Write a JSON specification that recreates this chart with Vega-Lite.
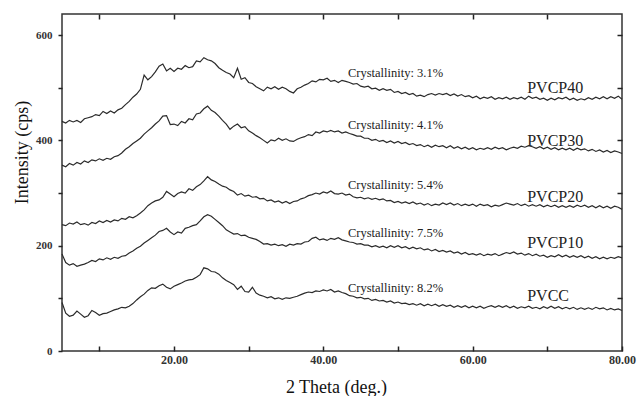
{
  "$schema": "https://vega.github.io/schema/vega-lite/v6.json",
  "width": 560,
  "height": 337,
  "autosize": {"type": "none"},
  "padding": {"left": 62, "top": 14, "right": 15, "bottom": 45},
  "background": "white",
  "config": {
    "font": "Liberation Serif",
    "view": {"stroke": "#333333", "strokeWidth": 1.5},
    "text": {"font": "Liberation Serif"},
    "axis": {"labelFont": "Liberation Serif", "titleFont": "Liberation Serif"}
  },
  "datasets": {
    "xrd": [
      {"theta":5,"PVCC":92,"PVCP10":184,"PVCP20":240,"PVCP30":353,"PVCP40":436},
      {"theta":5.5,"PVCC":72,"PVCP10":168,"PVCP20":238,"PVCP30":350,"PVCP40":433},
      {"theta":6,"PVCC":66,"PVCP10":163,"PVCP20":243,"PVCP30":356,"PVCP40":438},
      {"theta":6.5,"PVCC":68,"PVCP10":166,"PVCP20":241,"PVCP30":353,"PVCP40":435},
      {"theta":7,"PVCC":76,"PVCP10":161,"PVCP20":245,"PVCP30":358,"PVCP40":438},
      {"theta":7.5,"PVCC":70,"PVCP10":163,"PVCP20":240,"PVCP30":355,"PVCP40":434},
      {"theta":8,"PVCC":64,"PVCP10":165,"PVCP20":242,"PVCP30":361,"PVCP40":441},
      {"theta":8.5,"PVCC":67,"PVCP10":168,"PVCP20":239,"PVCP30":358,"PVCP40":443},
      {"theta":9,"PVCC":77,"PVCP10":172,"PVCP20":244,"PVCP30":363,"PVCP40":445},
      {"theta":9.5,"PVCC":73,"PVCP10":170,"PVCP20":242,"PVCP30":361,"PVCP40":449},
      {"theta":10,"PVCC":68,"PVCP10":175,"PVCP20":247,"PVCP30":365,"PVCP40":447},
      {"theta":10.5,"PVCC":71,"PVCP10":173,"PVCP20":244,"PVCP30":362,"PVCP40":455},
      {"theta":11,"PVCC":72,"PVCP10":177,"PVCP20":248,"PVCP30":366,"PVCP40":451},
      {"theta":11.5,"PVCC":75,"PVCP10":174,"PVCP20":245,"PVCP30":364,"PVCP40":456},
      {"theta":12,"PVCC":78,"PVCP10":178,"PVCP20":249,"PVCP30":369,"PVCP40":452},
      {"theta":12.5,"PVCC":80,"PVCP10":176,"PVCP20":247,"PVCP30":371,"PVCP40":458},
      {"theta":13,"PVCC":83,"PVCP10":180,"PVCP20":252,"PVCP30":376,"PVCP40":461},
      {"theta":13.5,"PVCC":82,"PVCP10":181,"PVCP20":250,"PVCP30":383,"PVCP40":468},
      {"theta":14,"PVCC":85,"PVCP10":186,"PVCP20":255,"PVCP30":388,"PVCP40":474},
      {"theta":14.5,"PVCC":90,"PVCP10":190,"PVCP20":253,"PVCP30":394,"PVCP40":482},
      {"theta":15,"PVCC":97,"PVCP10":195,"PVCP20":257,"PVCP30":399,"PVCP40":488},
      {"theta":15.5,"PVCC":103,"PVCP10":199,"PVCP20":262,"PVCP30":404,"PVCP40":497},
      {"theta":16,"PVCC":108,"PVCP10":205,"PVCP20":268,"PVCP30":412,"PVCP40":524},
      {"theta":16.5,"PVCC":115,"PVCP10":210,"PVCP20":276,"PVCP30":418,"PVCP40":515},
      {"theta":17,"PVCC":120,"PVCP10":215,"PVCP20":281,"PVCP30":424,"PVCP40":521},
      {"theta":17.5,"PVCC":119,"PVCP10":220,"PVCP20":285,"PVCP30":431,"PVCP40":530},
      {"theta":18,"PVCC":124,"PVCP10":227,"PVCP20":287,"PVCP30":437,"PVCP40":541},
      {"theta":18.5,"PVCC":127,"PVCP10":229,"PVCP20":292,"PVCP30":446,"PVCP40":545},
      {"theta":19,"PVCC":121,"PVCP10":233,"PVCP20":303,"PVCP30":447,"PVCP40":532},
      {"theta":19.5,"PVCC":118,"PVCP10":226,"PVCP20":298,"PVCP30":430,"PVCP40":537},
      {"theta":20,"PVCC":123,"PVCP10":221,"PVCP20":293,"PVCP30":431,"PVCP40":531},
      {"theta":20.5,"PVCC":126,"PVCP10":226,"PVCP20":299,"PVCP30":428,"PVCP40":537},
      {"theta":21,"PVCC":129,"PVCP10":224,"PVCP20":302,"PVCP30":436,"PVCP40":535},
      {"theta":21.5,"PVCC":133,"PVCP10":233,"PVCP20":300,"PVCP30":433,"PVCP40":542},
      {"theta":22,"PVCC":135,"PVCP10":235,"PVCP20":308,"PVCP30":441,"PVCP40":538},
      {"theta":22.5,"PVCC":136,"PVCP10":238,"PVCP20":305,"PVCP30":439,"PVCP40":540},
      {"theta":23,"PVCC":140,"PVCP10":240,"PVCP20":312,"PVCP30":450,"PVCP40":551},
      {"theta":23.5,"PVCC":145,"PVCP10":247,"PVCP20":316,"PVCP30":452,"PVCP40":549},
      {"theta":24,"PVCC":158,"PVCP10":255,"PVCP20":323,"PVCP30":460,"PVCP40":557},
      {"theta":24.5,"PVCC":156,"PVCP10":259,"PVCP20":331,"PVCP30":465,"PVCP40":553},
      {"theta":25,"PVCC":151,"PVCP10":256,"PVCP20":325,"PVCP30":457,"PVCP40":551},
      {"theta":25.5,"PVCC":150,"PVCP10":250,"PVCP20":322,"PVCP30":453,"PVCP40":546},
      {"theta":26,"PVCC":146,"PVCP10":244,"PVCP20":317,"PVCP30":446,"PVCP40":538},
      {"theta":26.5,"PVCC":139,"PVCP10":238,"PVCP20":313,"PVCP30":438,"PVCP40":533},
      {"theta":27,"PVCC":134,"PVCP10":230,"PVCP20":311,"PVCP30":431,"PVCP40":529},
      {"theta":27.5,"PVCC":130,"PVCP10":226,"PVCP20":306,"PVCP30":421,"PVCP40":526},
      {"theta":28,"PVCC":126,"PVCP10":222,"PVCP20":303,"PVCP30":427,"PVCP40":519},
      {"theta":28.5,"PVCC":117,"PVCP10":223,"PVCP20":296,"PVCP30":431,"PVCP40":537},
      {"theta":29,"PVCC":123,"PVCP10":219,"PVCP20":299,"PVCP30":424,"PVCP40":516},
      {"theta":29.5,"PVCC":113,"PVCP10":220,"PVCP20":294,"PVCP30":426,"PVCP40":519},
      {"theta":30,"PVCC":112,"PVCP10":216,"PVCP20":296,"PVCP30":418,"PVCP40":510},
      {"theta":30.5,"PVCC":121,"PVCP10":214,"PVCP20":292,"PVCP30":414,"PVCP40":508},
      {"theta":31,"PVCC":110,"PVCP10":212,"PVCP20":293,"PVCP30":409,"PVCP40":502},
      {"theta":31.5,"PVCC":106,"PVCP10":208,"PVCP20":289,"PVCP30":405,"PVCP40":498},
      {"theta":32,"PVCC":104,"PVCP10":203,"PVCP20":290,"PVCP30":400,"PVCP40":494},
      {"theta":32.5,"PVCC":101,"PVCP10":204,"PVCP20":285,"PVCP30":395,"PVCP40":501},
      {"theta":33,"PVCC":103,"PVCP10":201,"PVCP20":287,"PVCP30":401,"PVCP40":498},
      {"theta":33.5,"PVCC":99,"PVCP10":203,"PVCP20":283,"PVCP30":399,"PVCP40":502},
      {"theta":34,"PVCC":101,"PVCP10":200,"PVCP20":285,"PVCP30":404,"PVCP40":497},
      {"theta":34.5,"PVCC":98,"PVCP10":202,"PVCP20":281,"PVCP30":400,"PVCP40":501},
      {"theta":35,"PVCC":101,"PVCP10":199,"PVCP20":284,"PVCP30":403,"PVCP40":498},
      {"theta":35.5,"PVCC":100,"PVCP10":203,"PVCP20":280,"PVCP30":399,"PVCP40":493},
      {"theta":36,"PVCC":102,"PVCP10":201,"PVCP20":284,"PVCP30":398,"PVCP40":490},
      {"theta":36.5,"PVCC":104,"PVCP10":204,"PVCP20":285,"PVCP30":402,"PVCP40":498},
      {"theta":37,"PVCC":107,"PVCP10":203,"PVCP20":289,"PVCP30":405,"PVCP40":501},
      {"theta":37.5,"PVCC":110,"PVCP10":207,"PVCP20":291,"PVCP30":407,"PVCP40":505},
      {"theta":38,"PVCC":112,"PVCP10":208,"PVCP20":295,"PVCP30":411,"PVCP40":508},
      {"theta":38.5,"PVCC":111,"PVCP10":214,"PVCP20":297,"PVCP30":409,"PVCP40":513},
      {"theta":39,"PVCC":114,"PVCP10":216,"PVCP20":300,"PVCP30":416,"PVCP40":511},
      {"theta":39.5,"PVCC":113,"PVCP10":211,"PVCP20":298,"PVCP30":414,"PVCP40":516},
      {"theta":40,"PVCC":116,"PVCP10":213,"PVCP20":302,"PVCP30":418,"PVCP40":515},
      {"theta":40.5,"PVCC":114,"PVCP10":210,"PVCP20":300,"PVCP30":416,"PVCP40":518},
      {"theta":41,"PVCC":117,"PVCP10":214,"PVCP20":304,"PVCP30":419,"PVCP40":512},
      {"theta":41.5,"PVCC":112,"PVCP10":212,"PVCP20":299,"PVCP30":416,"PVCP40":514},
      {"theta":42,"PVCC":114,"PVCP10":215,"PVCP20":298,"PVCP30":418,"PVCP40":510},
      {"theta":42.5,"PVCC":111,"PVCP10":211,"PVCP20":300,"PVCP30":414,"PVCP40":514},
      {"theta":43,"PVCC":109,"PVCP10":209,"PVCP20":296,"PVCP30":416,"PVCP40":512},
      {"theta":43.5,"PVCC":105,"PVCP10":207,"PVCP20":298,"PVCP30":413,"PVCP40":510},
      {"theta":44,"PVCC":104,"PVCP10":206,"PVCP20":293,"PVCP30":411,"PVCP40":507},
      {"theta":44.5,"PVCC":101,"PVCP10":203,"PVCP20":291,"PVCP30":408,"PVCP40":508},
      {"theta":45,"PVCC":102,"PVCP10":204,"PVCP20":292,"PVCP30":408,"PVCP40":503},
      {"theta":45.5,"PVCC":99,"PVCP10":201,"PVCP20":289,"PVCP30":404,"PVCP40":501},
      {"theta":46,"PVCC":100,"PVCP10":201,"PVCP20":291,"PVCP30":404,"PVCP40":503},
      {"theta":46.5,"PVCC":96,"PVCP10":198,"PVCP20":288,"PVCP30":400,"PVCP40":498},
      {"theta":47,"PVCC":98,"PVCP10":200,"PVCP20":290,"PVCP30":402,"PVCP40":499},
      {"theta":47.5,"PVCC":95,"PVCP10":197,"PVCP20":287,"PVCP30":398,"PVCP40":495},
      {"theta":48,"PVCC":96,"PVCP10":199,"PVCP20":289,"PVCP30":400,"PVCP40":498},
      {"theta":48.5,"PVCC":93,"PVCP10":196,"PVCP20":285,"PVCP30":396,"PVCP40":495},
      {"theta":49,"PVCC":95,"PVCP10":200,"PVCP20":286,"PVCP30":399,"PVCP40":497},
      {"theta":49.5,"PVCC":91,"PVCP10":197,"PVCP20":282,"PVCP30":395,"PVCP40":491},
      {"theta":50,"PVCC":93,"PVCP10":200,"PVCP20":284,"PVCP30":398,"PVCP40":493},
      {"theta":50.5,"PVCC":90,"PVCP10":196,"PVCP20":281,"PVCP30":394,"PVCP40":489},
      {"theta":51,"PVCC":91,"PVCP10":198,"PVCP20":283,"PVCP30":396,"PVCP40":491},
      {"theta":51.5,"PVCC":88,"PVCP10":194,"PVCP20":280,"PVCP30":392,"PVCP40":487},
      {"theta":52,"PVCC":90,"PVCP10":197,"PVCP20":283,"PVCP30":394,"PVCP40":489},
      {"theta":52.5,"PVCC":87,"PVCP10":194,"PVCP20":279,"PVCP30":390,"PVCP40":484},
      {"theta":53,"PVCC":90,"PVCP10":196,"PVCP20":281,"PVCP30":392,"PVCP40":486},
      {"theta":53.5,"PVCC":86,"PVCP10":192,"PVCP20":277,"PVCP30":388,"PVCP40":483},
      {"theta":54,"PVCC":89,"PVCP10":194,"PVCP20":280,"PVCP30":391,"PVCP40":487},
      {"theta":54.5,"PVCC":86,"PVCP10":190,"PVCP20":276,"PVCP30":387,"PVCP40":489},
      {"theta":55,"PVCC":89,"PVCP10":193,"PVCP20":279,"PVCP30":391,"PVCP40":486},
      {"theta":55.5,"PVCC":85,"PVCP10":189,"PVCP20":277,"PVCP30":388,"PVCP40":489},
      {"theta":56,"PVCC":88,"PVCP10":191,"PVCP20":281,"PVCP30":390,"PVCP40":487},
      {"theta":56.5,"PVCC":85,"PVCP10":188,"PVCP20":278,"PVCP30":386,"PVCP40":489},
      {"theta":57,"PVCC":87,"PVCP10":190,"PVCP20":281,"PVCP30":390,"PVCP40":485},
      {"theta":57.5,"PVCC":83,"PVCP10":186,"PVCP20":277,"PVCP30":385,"PVCP40":488},
      {"theta":58,"PVCC":86,"PVCP10":188,"PVCP20":280,"PVCP30":388,"PVCP40":484},
      {"theta":58.5,"PVCC":83,"PVCP10":184,"PVCP20":276,"PVCP30":384,"PVCP40":487},
      {"theta":59,"PVCC":86,"PVCP10":187,"PVCP20":279,"PVCP30":387,"PVCP40":483},
      {"theta":59.5,"PVCC":82,"PVCP10":183,"PVCP20":276,"PVCP30":383,"PVCP40":485},
      {"theta":60,"PVCC":85,"PVCP10":185,"PVCP20":279,"PVCP30":386,"PVCP40":481},
      {"theta":60.5,"PVCC":82,"PVCP10":182,"PVCP20":275,"PVCP30":382,"PVCP40":484},
      {"theta":61,"PVCC":85,"PVCP10":185,"PVCP20":279,"PVCP30":385,"PVCP40":479},
      {"theta":61.5,"PVCC":81,"PVCP10":181,"PVCP20":276,"PVCP30":383,"PVCP40":482},
      {"theta":62,"PVCC":84,"PVCP10":184,"PVCP20":278,"PVCP30":386,"PVCP40":480},
      {"theta":62.5,"PVCC":86,"PVCP10":182,"PVCP20":274,"PVCP30":383,"PVCP40":483},
      {"theta":63,"PVCC":83,"PVCP10":185,"PVCP20":277,"PVCP30":387,"PVCP40":478},
      {"theta":63.5,"PVCC":86,"PVCP10":181,"PVCP20":275,"PVCP30":384,"PVCP40":481},
      {"theta":64,"PVCC":83,"PVCP10":184,"PVCP20":278,"PVCP30":386,"PVCP40":479},
      {"theta":64.5,"PVCC":86,"PVCP10":187,"PVCP20":281,"PVCP30":382,"PVCP40":482},
      {"theta":65,"PVCC":82,"PVCP10":185,"PVCP20":279,"PVCP30":385,"PVCP40":478},
      {"theta":65.5,"PVCC":85,"PVCP10":188,"PVCP20":277,"PVCP30":387,"PVCP40":481},
      {"theta":66,"PVCC":81,"PVCP10":184,"PVCP20":280,"PVCP30":385,"PVCP40":479},
      {"theta":66.5,"PVCC":84,"PVCP10":186,"PVCP20":276,"PVCP30":389,"PVCP40":482},
      {"theta":67,"PVCC":82,"PVCP10":182,"PVCP20":279,"PVCP30":387,"PVCP40":478},
      {"theta":67.5,"PVCC":85,"PVCP10":185,"PVCP20":275,"PVCP30":390,"PVCP40":484},
      {"theta":68,"PVCC":81,"PVCP10":181,"PVCP20":278,"PVCP30":388,"PVCP40":480},
      {"theta":68.5,"PVCC":83,"PVCP10":184,"PVCP20":275,"PVCP30":385,"PVCP40":482},
      {"theta":69,"PVCC":80,"PVCP10":180,"PVCP20":278,"PVCP30":388,"PVCP40":478},
      {"theta":69.5,"PVCC":84,"PVCP10":182,"PVCP20":274,"PVCP30":384,"PVCP40":480},
      {"theta":70,"PVCC":81,"PVCP10":178,"PVCP20":277,"PVCP30":387,"PVCP40":476},
      {"theta":70.5,"PVCC":85,"PVCP10":181,"PVCP20":274,"PVCP30":383,"PVCP40":480},
      {"theta":71,"PVCC":81,"PVCP10":179,"PVCP20":277,"PVCP30":386,"PVCP40":477},
      {"theta":71.5,"PVCC":84,"PVCP10":183,"PVCP20":273,"PVCP30":382,"PVCP40":481},
      {"theta":72,"PVCC":80,"PVCP10":179,"PVCP20":276,"PVCP30":385,"PVCP40":479},
      {"theta":72.5,"PVCC":83,"PVCP10":182,"PVCP20":273,"PVCP30":382,"PVCP40":482},
      {"theta":73,"PVCC":80,"PVCP10":178,"PVCP20":276,"PVCP30":385,"PVCP40":477},
      {"theta":73.5,"PVCC":83,"PVCP10":181,"PVCP20":273,"PVCP30":381,"PVCP40":480},
      {"theta":74,"PVCC":79,"PVCP10":178,"PVCP20":277,"PVCP30":385,"PVCP40":476},
      {"theta":74.5,"PVCC":82,"PVCP10":181,"PVCP20":274,"PVCP30":382,"PVCP40":479},
      {"theta":75,"PVCC":79,"PVCP10":177,"PVCP20":277,"PVCP30":384,"PVCP40":477},
      {"theta":75.5,"PVCC":82,"PVCP10":180,"PVCP20":273,"PVCP30":380,"PVCP40":481},
      {"theta":76,"PVCC":79,"PVCP10":176,"PVCP20":276,"PVCP30":383,"PVCP40":478},
      {"theta":76.5,"PVCC":83,"PVCP10":179,"PVCP20":272,"PVCP30":379,"PVCP40":482},
      {"theta":77,"PVCC":80,"PVCP10":175,"PVCP20":276,"PVCP30":382,"PVCP40":479},
      {"theta":77.5,"PVCC":82,"PVCP10":178,"PVCP20":272,"PVCP30":378,"PVCP40":483},
      {"theta":78,"PVCC":78,"PVCP10":175,"PVCP20":275,"PVCP30":381,"PVCP40":479},
      {"theta":78.5,"PVCC":81,"PVCP10":178,"PVCP20":271,"PVCP30":377,"PVCP40":483},
      {"theta":79,"PVCC":78,"PVCP10":176,"PVCP20":275,"PVCP30":380,"PVCP40":480},
      {"theta":79.5,"PVCC":80,"PVCP10":179,"PVCP20":273,"PVCP30":378,"PVCP40":484},
      {"theta":80,"PVCC":77,"PVCP10":177,"PVCP20":269,"PVCP30":375,"PVCP40":478}
    ],
    "labels": [
      {"kind":"crystallinity","label":"Crystallinity: 3.1%","theta":43.3,"intensity":528},
      {"kind":"crystallinity","label":"Crystallinity: 4.1%","theta":43.3,"intensity":430},
      {"kind":"crystallinity","label":"Crystallinity: 5.4%","theta":43.3,"intensity":316},
      {"kind":"crystallinity","label":"Crystallinity: 7.5%","theta":43.3,"intensity":225},
      {"kind":"crystallinity","label":"Crystallinity: 8.2%","theta":43.3,"intensity":120},
      {"kind":"sample","label":"PVCP40","theta":67.3,"intensity":499},
      {"kind":"sample","label":"PVCP30","theta":67.3,"intensity":398},
      {"kind":"sample","label":"PVCP20","theta":67.3,"intensity":293},
      {"kind":"sample","label":"PVCP10","theta":67.3,"intensity":206},
      {"kind":"sample","label":"PVCC","theta":67.3,"intensity":105}
    ]
  },
  "resolve": {"axis": {"x": "independent", "y": "independent"}},
  "layer": [
    {
      "data": {"name": "xrd"},
      "transform": [
        {"fold": ["PVCC", "PVCP10", "PVCP20", "PVCP30", "PVCP40"], "as": ["sample", "intensity"]}
      ],
      "mark": {"type": "line", "color": "#2b2b2b", "strokeWidth": 1.2},
      "encoding": {
        "x": {
          "field": "theta", "type": "quantitative",
          "scale": {"domain": [5, 80], "nice": false, "zero": false},
          "axis": {
            "orient": "bottom", "offset": -5, "values": [10, 20, 30, 40, 50, 60, 70, 80],
            "labelExpr": "datum.value % 20 === 0 ? format(datum.value, '.2f') : ''",
            "domain": false, "grid": false, "ticks": true,
            "tickSize": 5, "tickColor": "#222222", "tickWidth": 1.5,
            "labelFont": "Liberation Serif", "labelFontSize": 12, "labelFontWeight": "bold", "labelColor": "#333333",
            "labelPadding": 3, "labelFlush": false, "labelOverlap": false,
            "title": "2 Theta (deg.)", "titleFont": "Liberation Serif", "titleFontSize": 18, "titleFontWeight": "normal",
            "titleColor": "#111111", "titleX": 274, "titleY": 46,
            "titleAlign": "center", "titleBaseline": "alphabetic"
          }
        },
        "y": {
          "field": "intensity", "type": "quantitative",
          "scale": {"domain": [0, 640], "nice": false},
          "axis": {
            "orient": "left", "values": [0, 100, 200, 300, 400, 500, 600],
            "labelExpr": "datum.value % 200 === 0 ? datum.value : ''",
            "domain": false, "grid": false, "ticks": true,
            "tickSize": 4, "tickColor": "#222222", "tickWidth": 1.5,
            "labelFont": "Liberation Serif", "labelFontSize": 11, "labelFontWeight": "bold", "labelColor": "#333333",
            "labelPadding": 6, "labelOverlap": false,
            "title": "Intensity (cps)", "titleFont": "Liberation Serif", "titleFontSize": 18, "titleFontWeight": "normal",
            "titleColor": "#111111", "titleX": -40, "titleY": 138, "titleAngle": -90,
            "titleAlign": "center", "titleBaseline": "middle"
          }
        },
        "detail": {"field": "sample"}
      }
    },
    {
      "data": {"name": "labels"},
      "transform": [{"filter": "datum.kind === 'crystallinity'"}],
      "mark": {"type": "text", "align": "left", "baseline": "middle", "font": "Liberation Serif", "fontSize": 12.5, "color": "#222222"},
      "encoding": {
        "x": {
          "field": "theta", "type": "quantitative",
          "axis": {
            "orient": "top", "values": [10, 20, 30, 40, 50, 60, 70],
            "labels": false, "domain": false, "grid": false, "title": null, "ticks": true,
            "tickSize": -5, "tickColor": "#222222", "tickWidth": 1.5
          }
        },
        "y": {
          "field": "intensity", "type": "quantitative",
          "axis": {
            "orient": "right", "values": [100, 200, 300, 400, 500, 600],
            "labels": false, "domain": false, "grid": false, "title": null, "ticks": true,
            "tickSize": -5, "tickColor": "#222222", "tickWidth": 1.5
          }
        },
        "text": {"field": "label"}
      }
    },
    {
      "data": {"name": "labels"},
      "transform": [{"filter": "datum.kind === 'sample'"}],
      "mark": {"type": "text", "align": "left", "baseline": "middle", "font": "Liberation Serif", "fontSize": 16, "color": "#222222"},
      "encoding": {
        "x": {"field": "theta", "type": "quantitative", "axis": null},
        "y": {"field": "intensity", "type": "quantitative", "axis": null},
        "text": {"field": "label"}
      }
    }
  ]
}
